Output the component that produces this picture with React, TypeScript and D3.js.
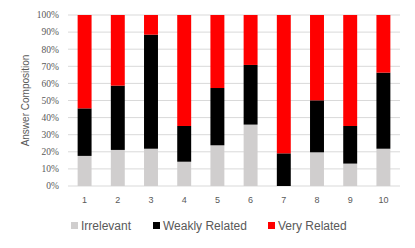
import React from "react";
import * as d3 from "d3";

const categories = ["1", "2", "3", "4", "5", "6", "7", "8", "9", "10"];
const irrelevant = [17.6, 21.1, 21.8, 14.2, 23.8, 35.9, 0, 19.7, 13.1, 21.8];
const weaklyRelated = [27.8, 37.6, 66.7, 20.9, 33.5, 34.9, 19.1, 30.4, 22.0, 44.5];
const veryRelated = [54.6, 41.3, 11.5, 64.9, 42.7, 29.2, 80.9, 49.9, 64.9, 33.7];
const seriesNames = ["Irrelevant", "Weakly Related", "Very Related"];
const seriesColors = ["#d0cece", "#000000", "#ff0000"];
const yTicks = [0, 10, 20, 30, 40, 50, 60, 70, 80, 90, 100];

export default function App() {
  const W = 415, H = 248;
  const left = 68, right = 400, top = 15, bottom = 186;
  const x = d3.scaleBand<string>().domain(categories).range([left, right]).paddingInner(0.58).paddingOuter(0.29);
  const y = d3.scaleLinear().domain([0, 100]).range([bottom, top]);
  const rows = categories.map((c, i) => ({
    cat: c,
    s0: irrelevant[i],
    s1: weaklyRelated[i],
    s2: veryRelated[i],
  }));
  const stack = d3.stack<any>().keys(["s0", "s1", "s2"]);
  const series = stack(rows);
  const legendX = [71, 153, 268];
  return (
    <svg width={W} height={H} style={{ position: "absolute", left: 0, top: 0, background: "#fff" }}>
      {yTicks.map((t) => (
        <g key={t}>
          <line x1={left} x2={right} y1={y(t)} y2={y(t)} stroke="#d9d9d9" strokeWidth={1} />
          <text x={59} y={y(t)} dy="0.35em" textAnchor="end" fontFamily="Liberation Serif" fontSize={9.5} fill="#595959">
            {t}%
          </text>
        </g>
      ))}
      {series.map((s, si) => (
        <g key={si} fill={seriesColors[si]}>
          {s.map((d: any, i: number) => {
            const h = y(d[0]) - y(d[1]);
            if (h <= 0) return null;
            return <rect key={i} x={x(categories[i])} y={y(d[1])} width={x.bandwidth()} height={h} />;
          })}
        </g>
      ))}
      {categories.map((c) => (
        <text key={c} x={(x(c) as number) + x.bandwidth() / 2} y={200} dy="0.35em" textAnchor="middle" fontFamily="Liberation Sans" fontSize={9} fill="#595959">
          {c}
        </text>
      ))}
      <text transform={`translate(25,${(top + bottom) / 2}) rotate(-90)`} textAnchor="middle" dy="0.35em" fontFamily="Liberation Sans" fontSize={10} fill="#595959">
        Answer Composition
      </text>
      {seriesNames.map((n, i) => (
        <g key={n}>
          <rect x={legendX[i]} y={222} width={7} height={7} fill={seriesColors[i]} />
          <text x={legendX[i] + 10} y={226} dy="0.35em" fontFamily="Liberation Sans" fontSize={12} fill="#595959">
            {n}
          </text>
        </g>
      ))}
    </svg>
  );
}
